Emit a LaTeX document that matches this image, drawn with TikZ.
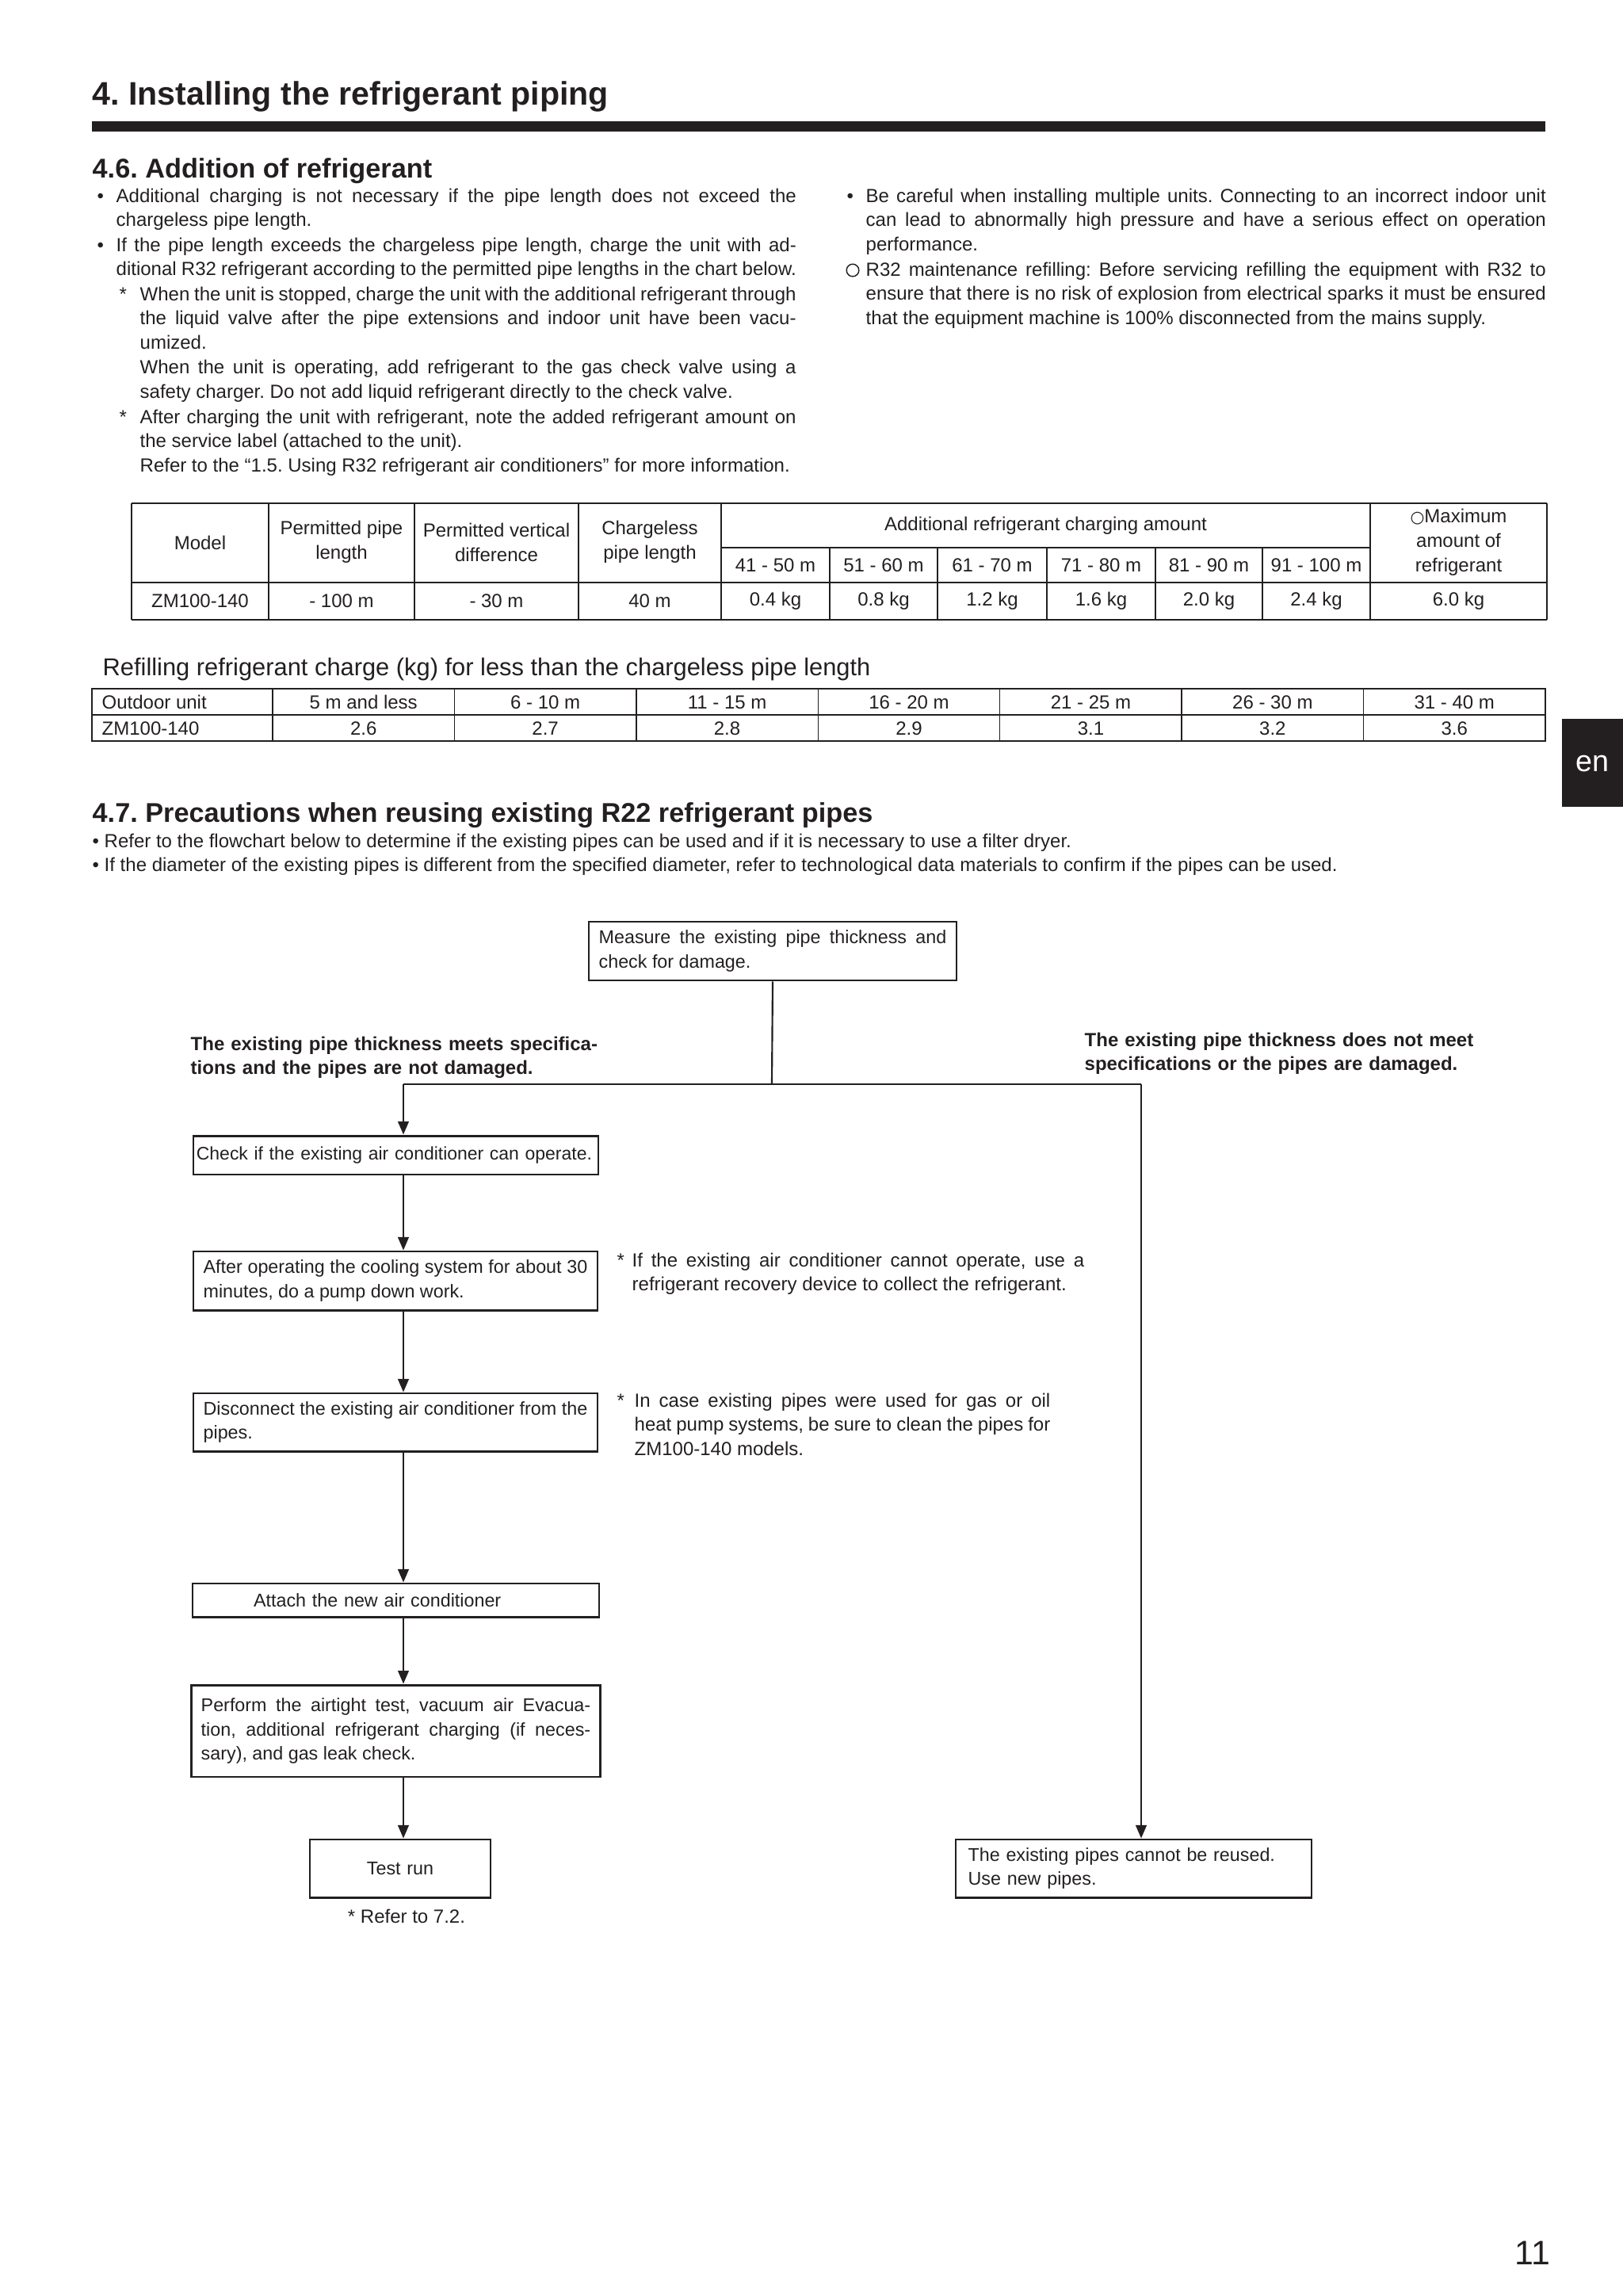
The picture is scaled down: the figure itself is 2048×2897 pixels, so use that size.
\documentclass[tikz,border=0pt]{standalone}
\usepackage{fontspec}
\setmainfont{Liberation Sans}
\newfontfamily\symfont{DejaVu Sans}
\usetikzlibrary{arrows.meta}
\definecolor{ink}{HTML}{231F20}
\newcommand{\bodyfont}{\fontsize{7}{9}\selectfont}
\newcommand{\boxfont}{\fontsize{6.8}{9}\selectfont}
\newcommand{\ring}{{\symfont\fontsize{6}{9}\selectfont ○}}
\newcommand{\tabrow}[3]% y, x from, x to
{(#2,#1) -- (#3,#1)
}
\tikzset{
  para/.style={anchor=base west, inner sep=0pt, align=justify, font=\bodyfont, text=ink},
  cell/.style={inner sep=0pt, align=center, font=\bodyfont, text=ink},
  flowbox/.style={draw=ink, line width=0.3mm, inner xsep=1.3mm, inner ysep=0pt, align=justify, font=\boxfont, text=ink},
  flowline/.style={draw=ink, line width=0.22mm},
  flowarrow/.style={flowline, -{Triangle[length=1.7mm,width=1.4mm]}},
  tabthin/.style={draw=ink, line width=0.15mm},
  tabthick/.style={draw=ink, line width=0.3mm},
}

\begin{document}
\frenchspacing
\begin{tikzpicture}[x=0.1025390625mm, y=-0.1025390625mm]
  \useasboundingbox (0,0) rectangle (2048,2897);

  % page head
  \node[anchor=base west, inner sep=0pt, font=\fontsize{12}{14}\selectfont\bfseries, text=ink] (title) at (116,132) {4. Installing the refrigerant piping};
  \fill[ink] (116,153) rectangle (1950,166);
  \fill[ink] (1971,907) rectangle (2048,1018);
  \node[inner sep=0pt, font=\fontsize{11}{12}\selectfont, text=white] (lang) at (2009,964) {en};
  \node[anchor=base east, inner sep=0pt, font=\fontsize{12.5}{14}\selectfont, text=ink] (pagenum) at (1957,2857) {11};

  % 4.6
  \node[anchor=base west, inner sep=0pt, font=\fontsize{10}{12}\selectfont\bfseries, text=ink] (head46) at (116,224) {4.6. Addition of refrigerant};
  \node[para] (dot1) at (122,255) {•};
  \node[para, text width=88mm] (item1) at (146,255) {Additional charging is not necessary if the pipe length does not exceed the\linebreak chargeless pipe length.};
  \node[para] (dot2) at (122,317) {•};
  \node[para, text width=88mm] (item2) at (146,317) {If the pipe length exceeds the chargeless pipe length, charge the unit with ad-\linebreak ditional R32 refrigerant according to the permitted pipe lengths in the chart below.};
  \node[para] (star3) at (150,379) {*};
  \node[para, text width=84.9mm] (item3) at (176,379) {When the unit is stopped, charge the unit with the additional refrigerant through\linebreak the liquid valve after the pipe extensions and indoor unit have been vacu-\linebreak umized.\par When the unit is operating, add refrigerant to the gas check valve using a\linebreak safety charger. Do not add liquid refrigerant directly to the check valve.};
  \node[para] (star4) at (150,534) {*};
  \node[para, text width=84.9mm] (item4) at (176,534) {After charging the unit with refrigerant, note the added refrigerant amount on\linebreak the service label (attached to the unit).\par Refer to the “1.5. Using R32 refrigerant air conditioners” for more information.};
  \node[para] (dot5) at (1068,255) {•};
  \node[para, text width=88mm] (item5) at (1092,255) {Be careful when installing multiple units. Connecting to an incorrect indoor unit\linebreak can lead to abnormally high pressure and have a serious effect on operation\linebreak performance.};
  \draw[ink, line width=0.15mm] (1076,341) circle (0.8mm);
  \node[para, text width=88mm] (item6) at (1092,348) {R32 maintenance refilling: Before servicing refilling the equipment with R32 to\linebreak ensure that there is no risk of explosion from electrical sparks it must be ensured\linebreak that the equipment machine is 100\% disconnected from the mains supply.};

  % charging table
  \draw[tabthick] \tabrow{635}{166}{1952};
  \draw[tabthick] \tabrow{735}{166}{1952};
  \draw[tabthick] \tabrow{782}{166}{1952};
  \draw[tabthin] \tabrow{691}{910}{1729};
  \foreach \cx in {166,339,523,730,910,1729,1952}
    \draw[tabthin] (\cx,635) -- (\cx,782);
  \foreach \cx in {1047,1183,1321,1458,1593}
    \draw[tabthin] (\cx,691) -- (\cx,782);
  \node[cell] (hmodel) at (252.5,685) {Model};
  \node[cell] (hpipe) at (431,684) {Permitted pipe\\length};
  \node[cell] (hvert) at (626.5,684) {Permitted vertical\\difference};
  \node[cell] (hfree) at (820,684) {Chargeless\\pipe length};
  \node[cell] (hadd) at (1319.5,663) {Additional refrigerant charging amount};
  \node[cell] (hmax) at (1840.5,684) {\ring Maximum\\amount of\\refrigerant};
  \node[cell] (dmodel) at (252.5,758.5) {ZM100-140};
  \node[cell] (dpipe) at (431,758.5) {- 100 m};
  \node[cell] (dvert) at (626.5,758.5) {- 30 m};
  \node[cell] (dfree) at (820,758.5) {40 m};
  \node[cell] (dmax) at (1840.5,758.5) {6.0 kg};
  \foreach \cx/\rng/\kg [count=\i] in {978.5/41 - 50 m/0.4 kg, 1115/51 - 60 m/0.8 kg, 1252/61 - 70 m/1.2 kg,
      1389.5/71 - 80 m/1.6 kg, 1525.5/81 - 90 m/2.0 kg, 1661/91 - 100 m/2.4 kg} {
    \node[cell] (rng\i) at (\cx,713) {\rng};
    \node[cell] (add\i) at (\cx,758.5) {\kg};
  }

  % refilling table
  \node[anchor=base west, inner sep=0pt, font=\fontsize{9}{11}\selectfont, text=ink] (refill) at (129,852) {Refilling refrigerant charge (kg) for less than the chargeless pipe length};
  \draw[tabthick] (116,869) rectangle (1950,935);
  \draw[tabthin] \tabrow{902}{116}{1950};
  \foreach \i in {0,...,6}
    \draw[tabthin] ({344+\i*229.43},869) -- ({344+\i*229.43},935);
  \node[cell, anchor=base west] (outdoor) at (128,894) {Outdoor unit};
  \node[cell, anchor=base west] (unit) at (128,927) {ZM100-140};
  \foreach \lbl/\val [count=\i] in {5 m and less/2.6, 6 - 10 m/2.7, 11 - 15 m/2.8, 16 - 20 m/2.9,
      21 - 25 m/3.1, 26 - 30 m/3.2, 31 - 40 m/3.6} {
    \node[cell, anchor=base] (len\i) at ({344+(\i-0.5)*229.43},894) {\lbl};
    \node[cell, anchor=base] (chg\i) at ({344+(\i-0.5)*229.43},927) {\val};
  }

  % 4.7
  \node[anchor=base west, inner sep=0pt, font=\fontsize{10}{12}\selectfont\bfseries, text=ink] (head47) at (116,1037) {4.7. Precautions when reusing existing R22 refrigerant pipes};
  \node[para] (note47a) at (116,1069) {• Refer to the flowchart below to determine if the existing pipes can be used and if it is necessary to use a filter dryer.};
  \node[para] (note47b) at (116,1099) {• If the diameter of the existing pipes is different from the specified diameter, refer to technological data materials to confirm if the pipes can be used.};

  % flowchart
  \node[flowbox, text width=44.98mm, minimum height=7.59mm] (measure) at (975,1200) {Measure the existing pipe thickness and\linebreak check for damage.};
  \node[flowbox, font=\fontsize{6.7}{9}\selectfont, inner xsep=0.4mm, text width=51.6mm, minimum height=5.02mm, align=left] (check) at (499.5,1457.5) {Check if the existing air conditioner can operate.};
  \node[flowbox, text width=49.7mm, minimum height=7.59mm] (pump) at (499,1616) {After operating the cooling system for about 30\linebreak minutes, do a pump down work.};
  \node[flowbox, text width=49.7mm, minimum height=7.49mm] (discon) at (499,1794.5) {Disconnect the existing air conditioner from the\linebreak pipes.};
  \node[flowbox, text width=50mm, minimum height=4.31mm, align=left] (attach) at (499.5,2019) {\hspace*{6.6mm}Attach the new air conditioner};
  \node[flowbox, text width=50.4mm, minimum height=11.89mm] (perform) at (499.5,2184) {Perform the airtight test, vacuum air Evacua-\linebreak tion, additional refrigerant charging (if neces-\linebreak sary), and gas leak check.};
  \node[flowbox, text width=20.78mm, minimum height=7.49mm, align=center] (testrun) at (505,2357.5) {Test run};
  \node[flowbox, inner xsep=1.6mm, text width=42.84mm, minimum height=7.49mm, align=left] (newpipes) at (1430.5,2357.5) {The existing pipes cannot be reused.\\Use new pipes.};
  \node[cell] (refer) at (513,2418) {* Refer to 7.2.};

  \node[para, font=\bodyfont\bfseries, text width=56mm, align=left] (yeslabel) at (240,1325) {The existing pipe thickness meets specifica-\\tions and the pipes are not damaged.};
  \node[para, font=\bodyfont\bfseries, text width=54mm, align=left] (nolabel) at (1368,1320) {The existing pipe thickness does not meet\\specifications or the pipes are damaged.};

  \node[para] (star5) at (778,1598) {*};
  \node[para, text width=58.5mm] (note1) at (797,1598) {If the existing air conditioner cannot operate, use a\linebreak refrigerant recovery device to collect the refrigerant.};
  \node[para] (star6) at (778,1775) {*};
  \node[para, text width=53.8mm] (note2) at (800,1775) {In case existing pipes were used for gas or oil\linebreak heat pump systems, be sure to clean the pipes for\linebreak ZM100-140 models.};

  \coordinate (split) at (974,1368);
  \coordinate (lturn) at (509,1368);
  \coordinate (rturn) at (1440,1368);
  \draw[flowline] (measure.south) -- (split);
  \draw[flowline] (lturn) -- (rturn);
  \draw[flowarrow] (lturn) -- (lturn |- check.north);
  \draw[flowarrow] (rturn) -- (rturn |- newpipes.north);
  \foreach \a/\b in {check/pump, pump/discon, discon/attach, attach/perform, perform/testrun}
    \draw[flowarrow] (\a.south -| lturn) -- (\b.north -| lturn);
\end{tikzpicture}
\end{document}
